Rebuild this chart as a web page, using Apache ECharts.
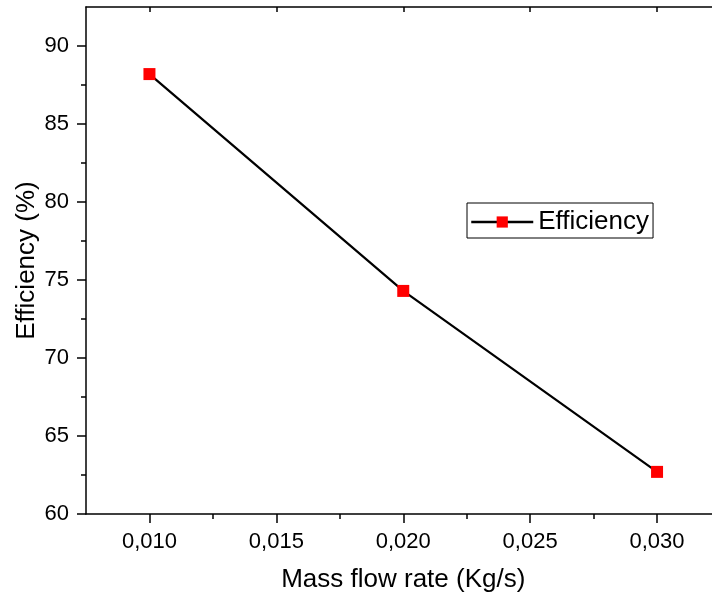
<!DOCTYPE html>
<html>
<head>
<meta charset="utf-8">
<script src="https://cdn.jsdelivr.net/npm/echarts@6/dist/echarts.min.js"></script>
<style>
  html, body { margin: 0; padding: 0; background: #fff; }
  #chart { width: 712px; height: 595px; }
</style>
</head>
<body>
<div id="chart"></div>
<script>
// Data
const massFlow = [0.010, 0.020, 0.030];
const efficiency = [88.2, 74.3, 62.7];
const seriesName = 'Efficiency';
const xMajorTicks = [0.010, 0.015, 0.020, 0.025, 0.030];
const xMinorTicks = [0.0125, 0.0175, 0.0225, 0.0275];
const yMajorTicks = [60, 65, 70, 75, 80, 85, 90];
const yMinorTicks = [62.5, 67.5, 72.5, 77.5, 82.5, 87.5];

const FONT = 'Liberation Sans, Arial, sans-serif';
const chart = echarts.init(document.getElementById('chart'), null, { renderer: 'canvas' });

const xMin = 0.0075, xMax = 0.0325, yMin = 60, yMax = 92.5;
const axisLine = { show: true, lineStyle: { color: '#000', width: 1.5 } };

chart.setOption({
  animation: false,
  backgroundColor: '#fff',
  grid: { left: 86, top: 7, width: 634.5, height: 507, outerBoundsMode: 'none', containLabel: false },
  legend: {
    data: [seriesName],
    left: 467, top: 203,
    borderColor: '#000', borderWidth: 1,
    padding: [6, 4, 3, 3],
    itemWidth: 62, itemHeight: 14, itemGap: 6,
    lineStyle: { width: 2.5, color: '#000' },
    textStyle: { fontSize: 26, color: '#000', fontFamily: FONT }
  },
  xAxis: [
    {
      type: 'value', min: xMin, max: xMax, position: 'bottom',
      axisLine: axisLine,
      axisTick: { show: true, inside: false, length: 9, customValues: xMajorTicks, lineStyle: { color: '#000', width: 1.5 } },
      axisLabel: {
        show: true, customValues: xMajorTicks, margin: 17,
        fontSize: 22, color: '#000', fontFamily: FONT,
        formatter: v => v.toFixed(3).replace('.', ',')
      },
      splitLine: { show: false },
      name: 'Mass flow rate (Kg/s)', nameLocation: 'middle', nameGap: 53, nameMoveOverlap: false,
      nameTextStyle: { fontSize: 26, color: '#000', fontFamily: FONT }
    },
    {
      type: 'value', min: xMin, max: xMax, position: 'bottom',
      axisLine: { show: false },
      axisTick: { show: true, inside: false, length: 5, customValues: xMinorTicks, lineStyle: { color: '#000', width: 1.5 } },
      axisLabel: { show: false },
      splitLine: { show: false }
    },
    {
      type: 'value', min: xMin, max: xMax, position: 'top',
      axisLine: axisLine,
      axisTick: { show: true, inside: true, length: 5, customValues: xMajorTicks, lineStyle: { color: '#000', width: 1.5 } },
      axisLabel: { show: false },
      splitLine: { show: false }
    }
  ],
  yAxis: [
    {
      type: 'value', min: yMin, max: yMax, interval: 5, position: 'left',
      axisLine: axisLine,
      axisTick: { show: true, inside: false, length: 9, customValues: yMajorTicks, lineStyle: { color: '#000', width: 1.5 } },
      axisLabel: {
        show: true, customValues: yMajorTicks, margin: 17,
        fontSize: 22, color: '#000', fontFamily: FONT
      },
      splitLine: { show: false },
      name: 'Efficiency (%)', nameLocation: 'middle', nameGap: 46, nameMoveOverlap: false,
      nameTextStyle: { fontSize: 26, color: '#000', fontFamily: FONT }
    },
    {
      type: 'value', min: yMin, max: yMax, position: 'left',
      axisLine: { show: false },
      axisTick: { show: true, inside: false, length: 5, customValues: yMinorTicks, lineStyle: { color: '#000', width: 1.5 } },
      axisLabel: { show: false },
      splitLine: { show: false }
    }
  ],
  series: [
    {
      name: seriesName,
      type: 'line',
      xAxisIndex: 0, yAxisIndex: 0,
      data: massFlow.map((x, i) => [x, efficiency[i]]),
      symbol: 'rect', symbolSize: 12,
      itemStyle: { color: '#ff0000' },
      lineStyle: { color: '#000', width: 2.2 },
      z: 3
    }
  ]
});
</script>
</body>
</html>
